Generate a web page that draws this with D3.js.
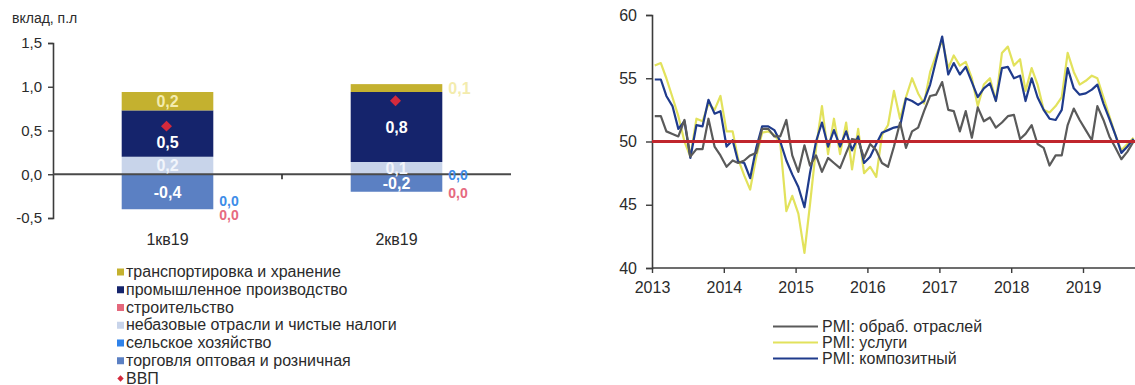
<!DOCTYPE html>
<html>
<head>
<meta charset="utf-8">
<script src="https://cdn.jsdelivr.net/npm/d3@7"></script>
<style>
  body { margin: 0; background: #ffffff; }
  svg { display: block; font-family: "Liberation Sans", Arial, sans-serif; }
</style>
</head>
<body>
<svg id="chart" width="1135" height="385"></svg>
<script>
// ---------- Left panel: contributions to GDP growth, p.p. ----------
const quarters = ["1кв19", "2кв19"];
const transport = [0.21, 0.09];     // транспортировка и хранение
const industry = [0.53, 0.80];      // промышленное производство
const construction = [0.0, 0.0];    // строительство
const nonbasic = [0.20, 0.14];      // небазовые отрасли и чистые налоги
const agriculture = [0.0, 0.0];     // сельское хозяйство
const trade = [-0.40, -0.20];       // торговля оптовая и розничная
const gdp = [0.55, 0.84];           // ВВП
const contribTicks = [-0.5, 0, 0.5, 1.0, 1.5];

// ---------- Right panel: monthly PMI, Jan 2013 – Sep 2019 ----------
const pmiYears = [2013, 2014, 2015, 2016, 2017, 2018, 2019];
const pmiTicks = [40, 45, 50, 55, 60];
const pmiThreshold = 50;
const pmiManufacturing = [
  52.0, 52.0, 50.8, 50.6, 50.4, 51.7, 48.8, 49.4, 49.4, 51.8, 49.6, 48.9,
  48.0, 48.5, 48.3, 48.5, 48.9, 49.1, 51.0, 51.0, 50.4, 50.4, 51.7, 48.9,
  47.6, 49.7, 48.1, 48.9, 47.6, 48.7, 48.3, 47.9, 49.1, 50.2, 50.1, 48.7,
  49.8, 49.3, 48.3, 48.0, 49.6, 51.5, 49.5, 50.8, 51.1, 52.4, 53.6, 53.7,
  54.7, 52.5, 52.4, 50.8, 52.4, 50.3, 52.7, 51.6, 51.9, 51.1, 51.5, 52.0,
  52.1, 50.2, 50.6, 51.3, 49.8, 49.5, 48.1, 48.9, 48.9, 51.3, 52.6, 51.7,
  50.9, 50.1, 52.8, 51.7, 50.4, 49.5, 48.6, 49.2, 50.0
];
const pmiServices = [
  56.0, 56.2, 55.0, 53.5, 52.0, 50.0, 48.8, 51.8, 51.6, 53.0, 52.5, 53.6,
  50.8, 50.8, 48.6, 47.3, 46.2, 48.8, 50.7, 50.8, 50.5, 49.9, 44.5, 45.7,
  44.3, 41.2, 45.0, 49.5, 52.8, 49.0, 51.8, 49.0, 51.5, 47.8, 51.0, 47.5,
  48.0, 47.2, 50.5, 51.3, 54.0, 51.8, 53.5, 55.0, 53.8, 53.0, 55.5, 56.8,
  58.0, 55.8, 56.8, 56.0, 56.3, 55.0, 52.8, 54.5, 55.0, 53.2, 57.0, 57.5,
  56.0, 56.5, 54.0, 55.8, 54.5, 52.5, 52.3, 52.8, 53.5, 57.0, 55.5, 54.5,
  54.8, 55.2, 55.0, 53.5, 52.0, 50.5, 49.3, 49.8, 50.3
];
const pmiComposite = [
  54.9, 54.9, 53.6, 52.8, 51.0, 51.6, 48.7, 51.3, 51.2, 53.3, 52.2, 52.4,
  49.6, 50.1, 48.4, 48.3, 47.1, 49.5, 51.2, 51.2, 50.9, 50.0, 48.5, 47.4,
  46.4, 44.8, 47.5, 50.0, 51.5, 49.6, 50.9, 49.6, 50.8, 49.3, 50.4, 48.3,
  48.8, 49.8, 50.7, 50.9, 51.1, 51.2, 53.4, 53.2, 52.9, 53.2, 54.5, 56.4,
  58.3, 55.3, 56.2, 55.3, 55.9, 54.7, 53.5, 54.2, 54.6, 53.2, 55.8, 55.9,
  55.0, 55.2, 53.2, 55.0, 53.5, 52.5, 51.8, 51.7, 52.5, 55.8, 54.2, 53.7,
  53.8, 54.1, 54.5, 53.0, 51.8, 50.5, 49.1, 49.6, 50.2
];

const svg = d3.select("#chart");
const textColor = "#2b2b2b";
const axisColor = "#3c3c3c";

const ru = d3.formatLocale({ decimal: ",", thousands: "\u00a0", grouping: [3], currency: ["", ""], minus: "-" });
const fmt1 = ru.format(".1f");

// ================= LEFT PANEL =================
const series = [
  { key: "trade", name: "торговля оптовая и розничная", values: trade, color: "#5b80c3", label: "#ffffff" },
  { key: "agriculture", name: "сельское хозяйство", values: agriculture, color: "#2f82ea", label: "#3d8de8" },
  { key: "nonbasic", name: "небазовые отрасли и чистые налоги", values: nonbasic, color: "#c8d4ea", label: "#f2f5fb" },
  { key: "construction", name: "строительство", values: construction, color: "#e4687c", label: "#e66a80" },
  { key: "industry", name: "промышленное производство", values: industry, color: "#15246c", label: "#ffffff" },
  { key: "transport", name: "транспортировка и хранение", values: transport, color: "#c4b12f", label: "#f3ecae" }
];

const rows = quarters.map((q, i) => {
  const r = { quarter: q };
  series.forEach(s => { r[s.key] = s.values[i]; });
  return r;
});
const stacked = d3.stack()
  .keys(series.map(s => s.key))
  .offset(d3.stackOffsetDiverging)(rows);

const xL = d3.scaleBand().domain(quarters).range([53, 511]).paddingInner(0.6).paddingOuter(0.3);
const yL = d3.scaleLinear().domain([-0.5, 1.5]).range([218, 43]);

// unit caption
svg.append("text").attr("x", 12).attr("y", 23)
  .attr("font-size", 14).attr("fill", textColor).text("вклад, п.л");

// bars
const gBars = svg.append("g");
stacked.forEach((layer, li) => {
  const s = series[li];
  gBars.selectAll(null).data(layer).join("rect")
    .attr("x", d => xL(d.data.quarter))
    .attr("width", xL.bandwidth())
    .attr("y", d => yL(Math.max(d[0], d[1])))
    .attr("height", d => Math.abs(yL(d[0]) - yL(d[1])))
    .attr("fill", s.color);
});

// y axis
const yAxisL = svg.append("g").attr("transform", "translate(53,0)")
  .call(d3.axisLeft(yL).tickValues(contribTicks).tickFormat(fmt1).tickSize(5).tickPadding(6));
yAxisL.select(".domain").attr("stroke", axisColor).attr("stroke-width", 1.6);
yAxisL.selectAll(".tick line").attr("stroke", axisColor).attr("stroke-width", 1.4);
yAxisL.selectAll(".tick text").attr("font-size", 15).attr("fill", textColor)
  .attr("font-family", "Liberation Sans, Arial, sans-serif");

// zero line with category separator tick
const y0 = yL(0);
svg.append("line").attr("x1", 53).attr("x2", 511).attr("y1", y0).attr("y2", y0)
  .attr("stroke", "#4a4a4a").attr("stroke-width", 2);
quarters.slice(1).forEach(q => {
  const xb = xL(q) - xL.step() * xL.paddingInner() / 2;
  svg.append("line").attr("x1", xb).attr("x2", xb).attr("y1", y0).attr("y2", y0 + 5)
    .attr("stroke", "#2a2a2a").attr("stroke-width", 1.6);
});

// category labels
svg.selectAll(null).data(quarters).join("text")
  .attr("x", d => xL(d) + xL.bandwidth() / 2)
  .attr("y", 245)
  .attr("text-anchor", "middle").attr("font-size", 16).attr("fill", textColor)
  .text(d => d);

// value labels
const gLab = svg.append("g").attr("font-size", 16).attr("font-weight", "bold");
// nudges for the zero-height segments, which sit beside the bar
const zeroNudge = { agriculture: [-8, -17], construction: [6, 1] };
stacked.forEach((layer, li) => {
  const s = series[li];
  layer.forEach((d, j) => {
    const v = s.values[j];
    const x0 = xL(d.data.quarter);
    const h = Math.abs(yL(d[0]) - yL(d[1]));
    const mid = (yL(d[0]) + yL(d[1])) / 2;
    let x, y, anchor, size = 16;
    if (v === 0) {
      const negBottom = d3.min(stacked, l => l[j][0]);
      x = x0 + xL.bandwidth() + 6;
      y = yL(negBottom) + zeroNudge[s.key][j];
      anchor = "start";
      size = 14;
    } else if (h < 13 && s.key !== "nonbasic") {
      x = x0 + xL.bandwidth() + 6;
      y = mid;
      anchor = "start";
    } else {
      x = x0 + xL.bandwidth() / 2;
      y = mid;
      anchor = "middle";
    }
    // keep the industry label clear of the GDP marker
    if (s.key === "industry") y = Math.max(mid, yL(gdp[j]) + 16);
    gLab.append("text")
      .attr("x", x).attr("y", y).attr("dy", "0.36em")
      .attr("font-size", size)
      .attr("text-anchor", anchor).attr("fill", s.label)
      .text(fmt1(v));
  });
});

// GDP markers
const diamond = d3.symbol(d3.symbolSquare, 60);
svg.selectAll(null).data(gdp).join("path")
  .attr("d", diamond)
  .attr("transform", (d, i) => `translate(${xL(quarters[i]) + xL.bandwidth() / 2 - 1},${yL(d)}) rotate(45)`)
  .attr("fill", "#d42a3c");

// legend
const legL = svg.append("g").attr("font-size", 16).attr("fill", textColor);
const legendOrder = ["transport", "industry", "construction", "nonbasic", "agriculture", "trade"];
legendOrder.forEach((k, i) => {
  const s = series.find(t => t.key === k);
  const by = 277 + i * 17.75;
  legL.append("rect").attr("x", 117).attr("y", by - 8.5).attr("width", 7).attr("height", 7).attr("fill", s.color);
  legL.append("text").attr("x", 126).attr("y", by).text(s.name);
});
{
  const by = 277 + 6 * 17.75;
  legL.append("path").attr("d", d3.symbol(d3.symbolSquare, 20))
    .attr("transform", `translate(120.5,${by - 5}) rotate(45)`).attr("fill", "#d42a3c");
  legL.append("text").attr("x", 126).attr("y", by).text("ВВП");
}

// ================= RIGHT PANEL =================
const months = pmiManufacturing.map((_, i) => new Date(2013, i, 15));
const xR = d3.scaleTime().domain([new Date(2013, 0, 1), new Date(2019, 0, 1)]).range([652, 1083]);
const yR = d3.scaleLinear().domain([40, 60]).range([268, 15]);

const yAxisR = svg.append("g").attr("transform", "translate(652,0)")
  .call(d3.axisLeft(yR).tickValues(pmiTicks).tickSize(6).tickPadding(9));
yAxisR.select(".domain").attr("stroke", axisColor).attr("stroke-width", 1.6);
yAxisR.selectAll(".tick line").attr("stroke", axisColor).attr("stroke-width", 1.4);
yAxisR.selectAll(".tick text").attr("font-size", 16).attr("fill", textColor)
  .attr("font-family", "Liberation Sans, Arial, sans-serif");

const xAxisR = svg.append("g").attr("transform", `translate(0,${yR(40)})`)
  .call(d3.axisBottom(xR).tickValues(pmiYears.map(y => new Date(y, 0, 1)))
    .tickFormat(d3.timeFormat("%Y")).tickSize(5).tickPadding(9));
xAxisR.select(".domain").remove();
xAxisR.selectAll(".tick line").attr("stroke", axisColor).attr("stroke-width", 1.4);
xAxisR.selectAll(".tick text").attr("font-size", 16).attr("fill", textColor)
  .attr("font-family", "Liberation Sans, Arial, sans-serif");
svg.append("line").attr("x1", 652).attr("x2", 1135).attr("y1", yR(40)).attr("y2", yR(40))
  .attr("stroke", axisColor).attr("stroke-width", 1.6);

const pmiSeries = [
  { name: "PMI: обраб. отраслей", values: pmiManufacturing, color: "#5a5a5a" },
  { name: "PMI: услуги", values: pmiServices, color: "#e2e25c" },
  { name: "PMI: композитный", values: pmiComposite, color: "#1f3b8c" }
];

const line = d3.line().x((d, i) => xR(months[i])).y(d => yR(d));
const drawOrder = [1, 2, 0];
drawOrder.forEach(k => {
  const s = pmiSeries[k];
  svg.append("path").datum(s.values)
    .attr("d", line).attr("fill", "none")
    .attr("stroke", s.color).attr("stroke-width", 2.2)
    .attr("stroke-linejoin", "round");
});

// 50-point threshold
svg.append("line").attr("x1", 652).attr("x2", 1135)
  .attr("y1", yR(pmiThreshold)).attr("y2", yR(pmiThreshold))
  .attr("stroke", "#c0262d").attr("stroke-width", 3);

// legend
const legR = svg.append("g").attr("font-size", 16).attr("fill", textColor);
pmiSeries.forEach((s, i) => {
  const by = 332 + i * 16;
  legR.append("line").attr("x1", 773).attr("x2", 818).attr("y1", by - 5.5).attr("y2", by - 5.5)
    .attr("stroke", s.color).attr("stroke-width", 2.2);
  legR.append("text").attr("x", 822).attr("y", by).text(s.name);
});
</script>
</body>
</html>
